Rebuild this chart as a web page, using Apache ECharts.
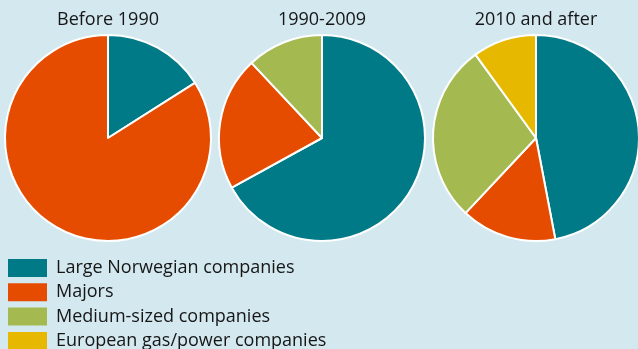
<!DOCTYPE html>
<html>
<head>
<meta charset="utf-8">
<script src="https://cdn.jsdelivr.net/npm/echarts@6/dist/echarts.min.js"></script>
<style>
  html, body { margin: 0; padding: 0; background: #d3e8ef; }
  #chart { width: 638px; height: 349px; }
</style>
</head>
<body>
<div id="chart"></div>
<script>
// Company groups (legend order)
const categories = ['Large Norwegian companies', 'Majors', 'Medium-sized companies', 'European gas/power companies'];
const colors = ['#007a87', '#e54c00', '#a4b94f', '#e6b900'];

// Period titles
const periods = ['Before 1990', '1990-2009', '2010 and after'];

// Shares (%) per period, in legend order
const sharesBefore1990 = [16, 84, 0, 0];
const shares1990to2009 = [67, 21, 12, 0];
const shares2010after = [47, 15, 28, 10];

const allShares = [sharesBefore1990, shares1990to2009, shares2010after];
const centersX = [108, 322, 536];
const FONT = '"Open Sans", sans-serif';

const chart = echarts.init(document.getElementById('chart'), null, { renderer: 'canvas' });

const series = allShares.map((shares, i) => ({
  type: 'pie',
  center: [centersX[i], 138],
  radius: [0, 103],
  startAngle: 90,
  clockwise: true,
  label: { show: false },
  labelLine: { show: false },
  emphasis: { disabled: true },
  itemStyle: { borderColor: '#ffffff', borderWidth: 2 },
  data: shares
    .map((v, k) => ({ name: categories[k], value: v, itemStyle: { color: colors[k] } }))
    .filter(d => d.value > 0)
}));

chart.setOption({
  animation: false,
  backgroundColor: '#d3e8ef',
  color: colors,
  title: periods.map((p, i) => ({
    text: p,
    left: centersX[i],
    top: 11,
    padding: 0,
    textAlign: 'center',
    textStyle: { fontFamily: FONT, fontSize: 18, fontWeight: 'normal', color: '#161616' }
  })),
  legend: {
    data: categories,
    orient: 'vertical',
    left: 8,
    top: 259,
    height: 140,
    icon: 'rect',
    itemWidth: 39,
    itemHeight: 18,
    itemGap: 6.3,
    selectedMode: false,
    padding: 0,
    itemStyle: { borderWidth: 0 },
    textStyle: { fontFamily: FONT, fontSize: 18, lineHeight: 18, color: '#161616', padding: [0, 0, 0, 4] }
  },
  series: series
});
</script>
</body>
</html>
